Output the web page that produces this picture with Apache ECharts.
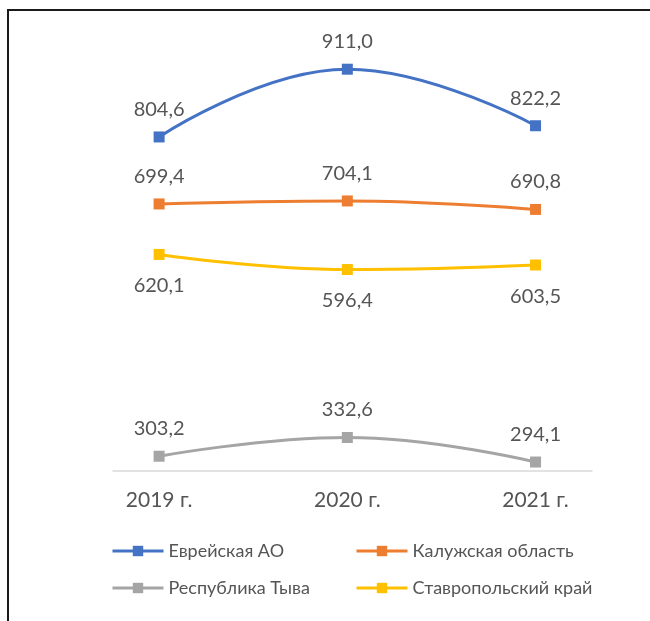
<!DOCTYPE html>
<html>
<head>
<meta charset="utf-8">
<script src="https://cdn.jsdelivr.net/npm/echarts@6/dist/echarts.min.js"></script>
<style>
  html, body { margin: 0; padding: 0; background: #fff; }
  #chart { width: 650px; height: 621px; }
</style>
</head>
<body>
<div id="chart"></div>
<script>
// Years on the horizontal axis
var years = ['2019 г.', '2020 г.', '2021 г.'];

// Series names (legend order) and their values per year
var seriesNames = ['Еврейская АО', 'Калужская область', 'Республика Тыва', 'Ставропольский край'];
var evreiskayaAO = [804.6, 911.0, 822.2];
var kaluzhskaya = [699.4, 704.1, 690.8];
var tyva = [303.2, 332.6, 294.1];
var stavropol = [620.1, 596.4, 603.5];

var seriesValues = [evreiskayaAO, kaluzhskaya, tyva, stavropol];
var seriesColors = ['#4472C4', '#ED7D31', '#A5A5A5', '#FFC000'];
var labelBelow = [false, false, false, true];

var FONT = 'Lato, "Open Sans", sans-serif';
var TEXT = '#555555';

function fmt(v) {
  return v.toFixed(1).replace('.', ',');
}

var series = seriesNames.map(function (name, i) {
  return {
    name: name,
    type: 'line',
    smooth: 0.45,
    symbol: 'rect',
    symbolSize: 11,
    color: seriesColors[i],
    lineStyle: { width: 3, color: seriesColors[i] },
    itemStyle: { color: seriesColors[i] },
    label: {
      show: true,
      position: labelBelow[i] ? 'bottom' : 'top',
      distance: labelBelow[i] ? 16 : 12,
      color: TEXT,
      fontFamily: FONT,
      fontSize: 20,
      formatter: function (p) { return fmt(p.value[1]); }
    },
    emphasis: { disabled: true },
    data: seriesValues[i].map(function (v, k) { return [k, v]; })
  };
});

var chart = echarts.init(document.getElementById('chart'), null, { renderer: 'canvas' });

var legendBase = {
  orient: 'vertical',
  top: 542,
  padding: 0,
  itemWidth: 51,
  itemHeight: 13,
  itemGap: 19,
  lineStyle: { width: 3 },
  textStyle: { color: TEXT, fontFamily: FONT, fontSize: 18 }
};

chart.setOption({
  animation: false,
  backgroundColor: '#fff',
  textStyle: { fontFamily: FONT },
  graphic: [{
    type: 'rect',
    shape: { x: 8, y: 10, width: 800, height: 800 },
    style: { fill: 'none', stroke: '#1a1a1a', lineWidth: 2 },
    silent: true,
    z: 100
  }],
  grid: { left: 113, right: 58, top: 38, bottom: 150 },
  xAxis: {
    type: 'value',
    min: -0.245,
    max: 2.3,
    axisLine: { show: true, onZero: false, lineStyle: { color: '#D9D9D9', width: 1.5 } },
    axisTick: { show: false },
    splitLine: { show: false },
    axisLabel: {
      customValues: [0, 1, 2],
      formatter: function (v) { return years[v]; },
      color: TEXT,
      fontFamily: FONT,
      fontSize: 21,
      margin: 19
    }
  },
  yAxis: {
    type: 'value',
    min: 280,
    max: 960,
    show: false,
    splitLine: { show: false }
  },
  legend: [
    Object.assign({}, legendBase, { left: 111, data: [seriesNames[0], seriesNames[2]] }),
    Object.assign({}, legendBase, { left: 355, data: [seriesNames[1], seriesNames[3]] })
  ],
  series: series
});
</script>
</body>
</html>
